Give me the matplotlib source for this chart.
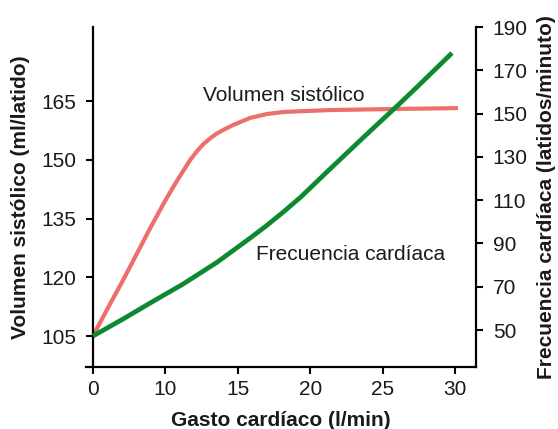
import numpy as np
import matplotlib
matplotlib.use("Agg")
import matplotlib.pyplot as plt

plt.rcParams['font.family'] = ['Liberation Sans', 'DejaVu Sans']

# gasto cardiaco (l/min) vs volumen sistolico (ml/latido)
gasto_vs = [0, 2.36, 4.17, 6.11, 7.92, 9.72, 10.34, 10.83, 11.72, 12.21, 12.62, 13.1, 13.59, 14.14, 14.69, 15.86, 17.03, 18.14, 19.31, 21.4, 26.2, 30.2]
vol_sist = [105, 113.2, 119.3, 126.2, 132.6, 138.7, 141.8, 144.8, 150.0, 152.3, 154.0, 155.5, 156.8, 157.9, 158.9, 160.7, 161.7, 162.2, 162.4, 162.7, 163.0, 163.2]

# gasto cardiaco (l/min) vs frecuencia cardiaca (latidos/minuto)
gasto_fc = [0, 4.17, 7.92, 11.24, 13.59, 15.86, 17.0, 18.14, 19.31, 21.59, 23.93, 26.0, 27.38, 29.79]
frec_card = [47.2, 55.1, 62.5, 71.3, 81.4, 92.5, 98.3, 104.5, 111.2, 125.8, 140.6, 153.5, 162.3, 178.0]

x_ticks = [0, 10, 15, 20, 25, 30]
vs_ticks = [105, 120, 135, 150, 165]
fc_ticks = [50, 70, 90, 110, 130, 150, 170, 190]

red = '#ec6f6b'
green = '#0d8a30'
txt = '#1a1a1a'


# axis is broken: 0..10 squeezed into the space of 5 units
def fwd(x):
    x = np.asarray(x, dtype=float)
    return np.where(x < 10, 5 + x / 2, x)


def inv(u):
    u = np.asarray(u, dtype=float)
    return np.where(u < 10, (u - 5) * 2, u)


fig = plt.figure(figsize=(5.58, 4.29), dpi=100)
ax = fig.add_axes([0.1541, 0.1445, 0.699, 0.7925])
ax.set_xscale('function', functions=(fwd, inv))
ax.set_xlim(-0.96, 31.45)
ax.set_ylim(97.1, 183.9)

ax.plot(gasto_vs, vol_sist, color=red, lw=3.0, solid_capstyle='butt', solid_joinstyle='round')

ax2 = ax.twinx()
ax2.set_ylim(32.9, 190)
ax2.plot(gasto_fc, frec_card, color=green, lw=3.4, solid_capstyle='butt', solid_joinstyle='round')

ax.spines['top'].set_visible(False)
ax.spines['right'].set_visible(False)
ax.spines['left'].set_position(('data', 0))
for s in ['top', 'left', 'bottom']:
    ax2.spines[s].set_visible(False)
for s in ['left', 'bottom']:
    ax.spines[s].set_linewidth(1.6)
ax2.spines['right'].set_linewidth(1.6)

ax.set_xticks(x_ticks)
ax.set_xticklabels([str(t) for t in x_ticks])
ax.set_yticks(vs_ticks)
ax2.set_yticks(fc_ticks)
ax.tick_params(axis='both', direction='out', length=5, width=1.5, labelsize=15, labelcolor=txt)
ax.tick_params(axis='x', pad=4)
ax.tick_params(axis='y', pad=7)
ax2.tick_params(axis='y', direction='out', length=5, width=1.5, labelsize=15, labelcolor=txt, pad=7)

ax.set_xlabel('Gasto cardíaco (l/min)', fontsize=15, fontweight='bold', color=txt, labelpad=9)
ax.set_ylabel('Volumen sistólico (ml/latido)', fontsize=15, fontweight='bold', color=txt, labelpad=8)
ax2.set_ylabel('Frecuencia cardíaca (latidos/minuto)', fontsize=15, fontweight='bold', color=txt, labelpad=7)

ax.text(18.14, 165.0, 'Volumen sistólico', fontsize=15, color=txt, ha='center', va='baseline')
ax2.text(22.76, 82.3, 'Frecuencia cardíaca', fontsize=15, color=txt, ha='center', va='baseline')

fig.savefig('out.png', dpi=100)
